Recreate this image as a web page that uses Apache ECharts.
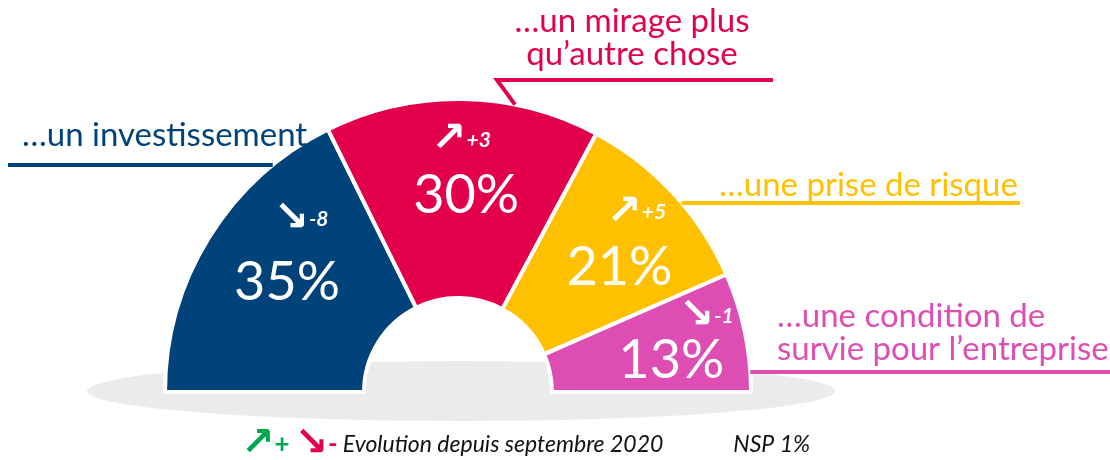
<!DOCTYPE html>
<html lang="fr">
<head>
<meta charset="UTF-8">
<title>Demi-camembert</title>
<script src="https://cdn.jsdelivr.net/npm/echarts@6/dist/echarts.min.js"></script>
<style>
    html, body { margin: 0; padding: 0; background: #fff; }
    #chart { width: 1110px; height: 460px; }
</style>
</head>
<body>
<div id="chart"></div>
<script>
    // données
    var categories = ['…un investissement', '…un mirage plus\nqu’autre chose', '…une prise de risque', '…une condition de\nsurvie pour l’entreprise'];
    var values = [35, 30, 21, 13];
    var evolutions = ['-8', '+3', '+5', '-1'];
    var nspValue = 1;
    var legendText = 'Evolution depuis septembre 2020';

    var colors = ['#00427a', '#e2004a', '#ffc000', '#dd4db3'];
    var FONT = 'Lato';
    var CX = 458, CY = 392, R0 = 94, R1 = 293;

    // décalages (px) par rapport au milieu de chaque secteur
    var pctShift = [[-4, -6], [5, 0], [17, 9], [21, 9]];
    var arrowShift = [[10, -69], [0, -55], [34, -46], [56, -36]];

    // libellés extérieurs
    var outerLabel = [
        { x: 22, y: 135, align: 'left', lineY: 165, side: -1, lineEnd: 8 },
        { x: 632, y: 38, align: 'center', lineY: 80, footX: 515, lineStart: 497, lineEnd: 773 },
        { x: 719, y: 185, align: 'left', lineY: 203, side: 1, lineEnd: 1020 },
        { x: 777, y: 333, align: 'left', lineY: 372, side: 1, lineEnd: 1110 }
    ];

    function arcX(y, side) {
        return CX + side * Math.sqrt(R1 * R1 - (CY - y) * (CY - y));
    }
    function arcY(x) {
        return CY - Math.sqrt(R1 * R1 - (x - CX) * (x - CX));
    }

    var pieData = values.map(function (v, i) {
        return { name: categories[i], value: v, itemStyle: { color: colors[i] } };
    });

    var ghostData = values.map(function (v, i) {
        return {
            name: categories[i],
            value: v,
            label: { color: colors[i] },
            labelLine: { lineStyle: { color: colors[i] } }
        };
    });

    function baseSeries(z) {
        return {
            type: 'pie',
            z: z,
            silent: true,
            center: [CX, CY],
            radius: [R0, R1],
            startAngle: 180,
            endAngle: 0,
            avoidLabelOverlap: false
        };
    }

    var sectors = baseSeries(2);
    sectors.itemStyle = { borderColor: '#fff', borderWidth: 4 };
    sectors.label = {
        show: true,
        position: 'inside',
        formatter: '{c}%',
        fontFamily: FONT,
        fontSize: 54,
        color: '#fff'
    };
    sectors.labelLine = { show: false };
    sectors.labelLayout = function (p) {
        var d = pctShift[p.dataIndex];
        return { dx: d[0], dy: d[1] };
    };
    sectors.data = pieData;

    var arrows = baseSeries(3);
    arrows.itemStyle = { color: 'rgba(0,0,0,0)', borderWidth: 0 };
    arrows.label = {
        show: true,
        position: 'inside',
        formatter: function (p) {
            var evo = evolutions[p.dataIndex];
            var arrow = evo.charAt(0) === '+' ? '↗' : '↘';
            return '{a|' + arrow + '}{e|' + evo + '}';
        },
        rich: {
            a: { fontFamily: 'DejaVu Sans', fontSize: 42, fontWeight: 'bold', color: '#fff' },
            e: { fontFamily: FONT, fontStyle: 'italic', fontWeight: 'bold', fontSize: 21, color: '#fff' }
        }
    };
    arrows.labelLine = { show: false };
    arrows.labelLayout = function (p) {
        var d = arrowShift[p.dataIndex];
        return { dx: d[0], dy: d[1] };
    };
    arrows.data = values.map(function (v, i) { return { name: categories[i], value: v }; });

    var outer = baseSeries(4);
    outer.itemStyle = { color: 'rgba(0,0,0,0)', borderWidth: 0 };
    outer.label = {
        show: true,
        position: 'outside',
        fontFamily: FONT,
        fontSize: 33,
        lineHeight: 33
    };
    outer.labelLine = {
        show: true,
        length: 10,
        length2: 10,
        lineStyle: { width: 4, cap: 'butt' }
    };
    outer.labelLayout = function (p) {
        var o = outerLabel[p.dataIndex];
        var pts;
        if (o.footX) {
            pts = [[o.footX, arcY(o.footX)], [o.lineStart, o.lineY], [o.lineEnd, o.lineY]];
        } else {
            var ax = arcX(o.lineY, o.side);
            pts = [[ax, o.lineY], [ax, o.lineY], [o.lineEnd, o.lineY]];
        }
        return { x: o.x, y: o.y, align: o.align, verticalAlign: 'middle', labelLinePoints: pts };
    };
    outer.data = ghostData;

    var chart = echarts.init(document.getElementById('chart'));

    var option = {
        animation: false,
        title: {
            left: 236,
            top: 420,
            text: '{g|↗}{gp|+} {r|↘}{rm|-}{t|' + legendText + '}{n|NSP ' + nspValue + '%}',
            textStyle: {
                fontWeight: 'normal',
                rich: {
                    g: { fontFamily: 'DejaVu Sans', fontSize: 40, color: '#00a650', fontWeight: 'bold' },
                    gp: { fontFamily: FONT, fontSize: 26, color: '#00a650', fontWeight: 'bold' },
                    r: { fontFamily: 'DejaVu Sans', fontSize: 40, color: '#e2004a', fontWeight: 'bold' },
                    rm: { fontFamily: FONT, fontSize: 26, color: '#e2004a', fontWeight: 'bold', padding: [0, 5, 0, 0] },
                    t: { fontFamily: FONT, fontSize: 23, fontStyle: 'italic', fontWeight: 'normal', color: '#111' },
                    n: { fontFamily: FONT, fontSize: 23, fontStyle: 'italic', fontWeight: 'normal', color: '#111', padding: [0, 0, 0, 70] }
                }
            }
        },
        graphic: [{
            type: 'circle',
            z: 0,
            x: 461,
            y: 391,
            scaleY: 30 / 374,
            shape: { cx: 0, cy: 0, r: 374 },
            style: { fill: '#ebebeb' }
        }],
        series: [sectors, arrows, outer]
    };

    chart.setOption(option);
</script>
</body>
</html>
